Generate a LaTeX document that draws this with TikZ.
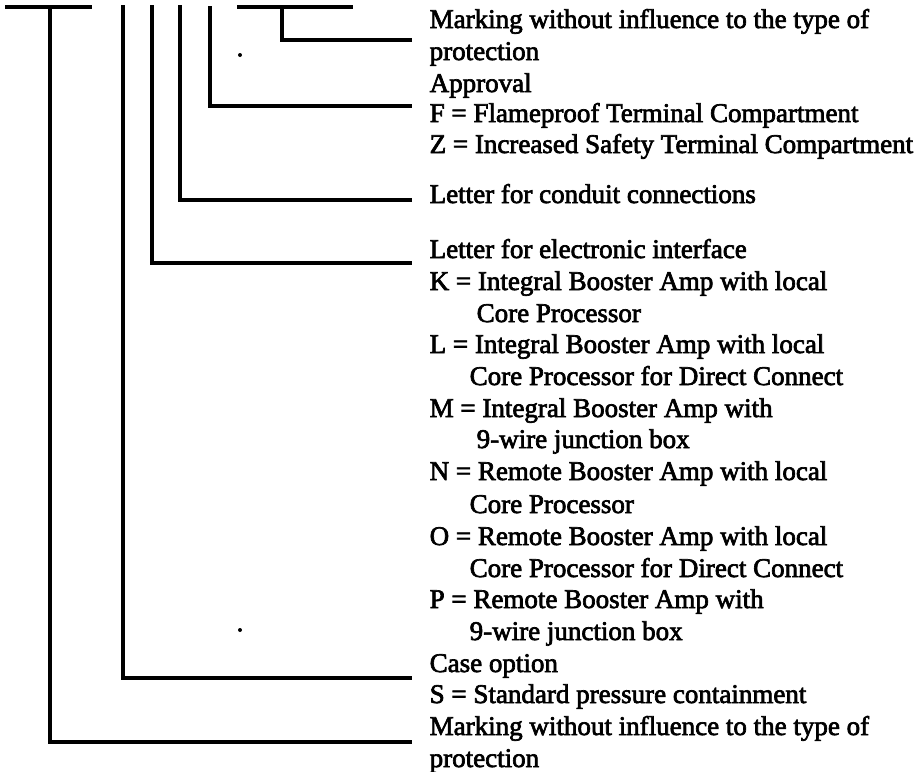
\documentclass[tikz,border=0pt]{standalone}
\usepackage{fontspec}
\setmainfont{Liberation Serif}[FakeBold=2.5]

\begin{document}
\begin{tikzpicture}[x=0.5pt, y=-0.5pt, line width=1.7pt,
    lbl/.style={anchor=base west, inner sep=0pt, font=\fontsize{13.5}{16}\selectfont}]
  \useasboundingbox (0,0) rectangle (918,772);
  % top bars
  \draw (5,7) -- (92,7);
  \draw (237,7) -- (353,7);
  \coordinate (top1) at (50,7);
  \coordinate (top2) at (123,5);
  \coordinate (top3) at (152,5);
  \coordinate (top4) at (180,5);
  \coordinate (top5) at (210,6);
  \coordinate (top6) at (282,7);
  % leader ends
  \coordinate (end6) at (412,40);
  \coordinate (end5) at (412,106);
  \coordinate (end4) at (412,200);
  \coordinate (end3) at (412,263);
  \coordinate (end2) at (412,678);
  \coordinate (end1) at (412,742);
  % labels
  \node[lbl] (mark1) at (428,28) {Marking without influence to the type of};
  \node[lbl] (prot1) at (428,60) {protection};
  \node[lbl] (approval) at (428,92) {Approval};
  \node[lbl] (flame) at (428,122) {F = Flameproof Terminal Compartment};
  \node[lbl] (incsafe) at (428,153) {Z = Increased Safety Terminal Compartment};
  \node[lbl] (conduit) at (428,203) {Letter for conduit connections};
  \node[lbl] (interface) at (428,258) {Letter for electronic interface};
  \node[lbl] (kopt) at (428,290) {K = Integral Booster Amp with local};
  \node[lbl] (kopt2) at (475,322) {Core Processor};
  \node[lbl] (lopt) at (428,353) {L = Integral Booster Amp with local};
  \node[lbl] (lopt2) at (468,385) {Core Processor for Direct Connect};
  \node[lbl] (mopt) at (428,417) {M = Integral Booster Amp with};
  \node[lbl] (mopt2) at (475,448) {9-wire junction box};
  \node[lbl] (nopt) at (428,480) {N = Remote Booster Amp with local};
  \node[lbl] (nopt2) at (468,513) {Core Processor};
  \node[lbl] (oopt) at (428,545) {O = Remote Booster Amp with local};
  \node[lbl] (oopt2) at (468,577) {Core Processor for Direct Connect};
  \node[lbl] (popt) at (428,608) {P = Remote Booster Amp with};
  \node[lbl] (popt2) at (468,640) {9-wire junction box};
  \node[lbl] (caseopt) at (428,672) {Case option};
  \node[lbl] (sopt) at (428,703) {S = Standard pressure containment};
  \node[lbl] (mark2) at (428,735) {Marking without influence to the type of};
  \node[lbl] (prot2) at (428,767) {protection};
  % leaders
  \draw (top6) |- (end6);
  \draw (top5) |- (end5);
  \draw (top4) |- (end4);
  \draw (top3) |- (end3);
  \draw (top2) |- (end2);
  \draw (top1) |- (end1);
  % specks
  \fill (240,55) circle (2);
  \fill (240,630) circle (2);
\end{tikzpicture}
\end{document}
